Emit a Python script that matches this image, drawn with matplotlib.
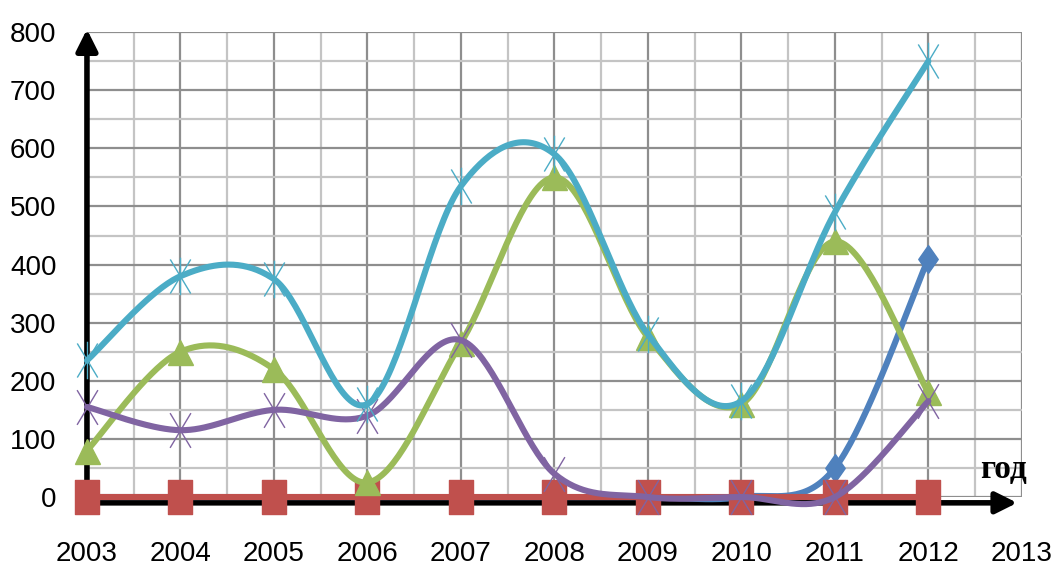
import numpy as np
import matplotlib
matplotlib.use("Agg")
import matplotlib.pyplot as plt
from matplotlib.path import Path

plt.rcParams['font.family'] = ['Liberation Sans', 'DejaVu Sans']

years = [2003, 2004, 2005, 2006, 2007, 2008, 2009, 2010, 2011, 2012]
x_tick_labels = ['2003', '2004', '2005', '2006', '2007', '2008', '2009', '2010', '2011', '2012', '2013']
y_ticks = [0, 100, 200, 300, 400, 500, 600, 700, 800]

blue_vals = [0, 0, 0, 0, 0, 0, 0, 0, 50, 410]
red_vals = [0, 0, 0, 0, 0, 0, 0, 0, 0, 0]
green_vals = [80, 250, 220, 25, 265, 550, 275, 160, 440, 180]
purple_vals = [155, 115, 150, 140, 270, 40, 0, 0, 0, 165]
cyan_vals = [235, 380, 375, 160, 535, 590, 280, 165, 490, 750]


def smooth(xs, ys, n=40):
    # Excel-style smoothed line: cubic Bezier with Catmull-Rom control points
    p = np.column_stack([xs, ys]).astype(float)
    out = [p[0]]
    t = np.linspace(0, 1, n)[1:, None]
    for i in range(len(p) - 1):
        p0 = p[i - 1] if i > 0 else p[i]
        p1, p2 = p[i], p[i + 1]
        p3 = p[i + 2] if i + 2 < len(p) else p[i + 1]
        c1 = p1 + (p2 - p0) / 6
        c2 = p2 - (p3 - p1) / 6
        seg = ((1 - t) ** 3) * p1 + 3 * ((1 - t) ** 2) * t * c1 + 3 * (1 - t) * t ** 2 * c2 + t ** 3 * p2
        out.extend(seg)
    out = np.array(out)
    return out[:, 0], out[:, 1]


rect = Path([(-0.72, -1), (0.72, -1), (0.72, 1), (-0.72, 1), (-0.72, -1)],
            [Path.MOVETO, Path.LINETO, Path.LINETO, Path.LINETO, Path.CLOSEPOLY])
diam = Path([(0, -1), (0.7, 0), (0, 1), (-0.7, 0), (0, -1)],
            [Path.MOVETO, Path.LINETO, Path.LINETO, Path.LINETO, Path.CLOSEPOLY])
star = Path([(-0.6, -1), (0.6, 1), (-0.6, 1), (0.6, -1), (0, -1.1), (0, 1.1)],
            [Path.MOVETO, Path.LINETO, Path.MOVETO, Path.LINETO, Path.MOVETO, Path.LINETO])
xmark = Path([(-0.6, -1), (0.6, 1), (-0.6, 1), (0.6, -1)],
             [Path.MOVETO, Path.LINETO, Path.MOVETO, Path.LINETO])

fig = plt.figure(figsize=(10.54, 5.69), dpi=100)
ax = fig.add_axes([0.0825, 0.1265, 0.887, 0.817])

series = [
    (blue_vals, '#4F81BD', diam, 20, True),
    (red_vals, '#C0504D', rect, 24, True),
    (green_vals, '#9BBB59', '^', 18, True),
    (purple_vals, '#8064A2', xmark, 25, False),
    (cyan_vals, '#4BACC6', star, 27, False),
]
for z, (vals, col, mk, ms, filled) in enumerate(series):
    sx, sy = smooth(years, vals)
    ax.plot(sx, sy, color=col, lw=4.4, solid_capstyle='round', zorder=3 + z, clip_on=False)
    if filled:
        ax.plot(years, vals, ls='none', marker=mk, ms=ms, color=col, mec=col,
                zorder=3 + z, clip_on=False)
    else:
        ax.plot(years, vals, ls='none', marker=mk, ms=ms, color=col, mew=1.0,
                zorder=3 + z, clip_on=False)

ax.set_xlim(2003, 2013)
ax.set_ylim(0, 800)
ax.set_xticks(range(2003, 2014))
ax.set_xticklabels(x_tick_labels)
ax.set_xticks(np.arange(2003.5, 2013, 1.0), minor=True)
ax.set_yticks(y_ticks)
ax.set_yticks(np.arange(50, 800, 100), minor=True)
ax.grid(which='major', color='#8e8e8e', lw=1.6, zorder=0)
ax.grid(which='minor', color='#c4c4c4', lw=1.6, zorder=0)
ax.set_axisbelow(True)
for s in ax.spines.values():
    s.set_visible(False)
ax.tick_params(which='both', length=0)
ax.tick_params(axis='y', pad=22, labelsize=20)
ax.tick_params(axis='x', pad=32, labelsize=20)

# black arrow axes
ax.annotate('', xy=(2003, 805), xytext=(2003, -12), xycoords='data',
            arrowprops=dict(arrowstyle='-|>', lw=4, color='black', mutation_scale=32,
                            shrinkA=0, shrinkB=0), zorder=2, annotation_clip=False)
ax.annotate('', xy=(2012.95, -10), xytext=(2002.98, -10), xycoords='data',
            arrowprops=dict(arrowstyle='-|>', lw=4, color='black', mutation_scale=32,
                            shrinkA=0, shrinkB=0), zorder=2, annotation_clip=False)
ax.text(2012.8, 47, 'год', family=['Liberation Serif', 'DejaVu Serif'], fontweight='bold',
        fontsize=24, ha='center', va='center', zorder=10)

fig.savefig('out.png', dpi=100)
